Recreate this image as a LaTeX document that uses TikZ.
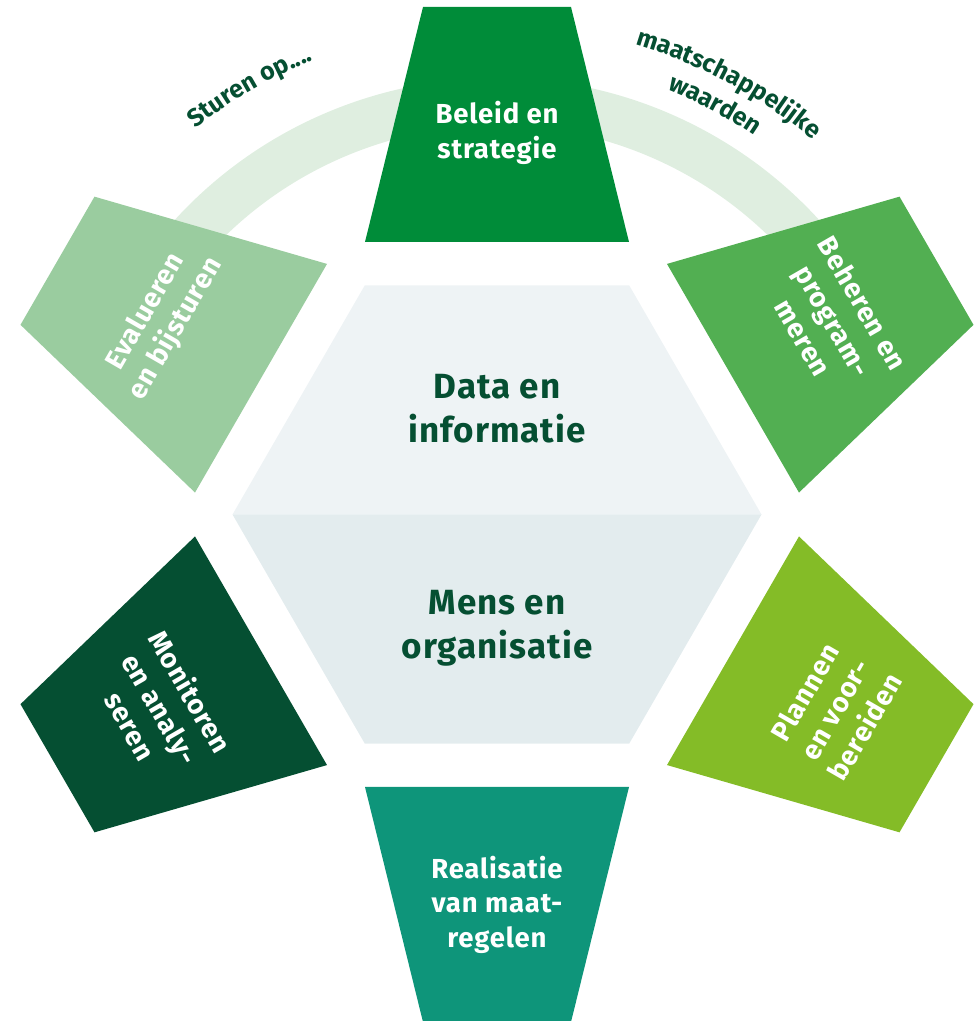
\documentclass[tikz,border=0pt]{standalone}
\usepackage{fontspec}
\setmainfont{Fira Sans}
\newfontfamily\lblfont[LetterSpace=3]{Fira Sans}
\usetikzlibrary{decorations.text,calc}
\definecolor{cTop}{HTML}{008C39}
\definecolor{cUR}{HTML}{52AF52}
\definecolor{cLR}{HTML}{84BC27}
\definecolor{cBot}{HTML}{0E957A}
\definecolor{cLL}{HTML}{054F32}
\definecolor{cUL}{HTML}{9ACC9F}
\definecolor{band}{HTML}{DFEEE0}
\definecolor{hexTop}{HTML}{EEF3F5}
\definecolor{hexBot}{HTML}{E3ECEE}
\definecolor{dgreen}{HTML}{054F32}
\newcommand\arcfont{\color{dgreen}\lblfont\bfseries\fontsize{25}{25}\selectfont}
\begin{document}
\begin{tikzpicture}[x=1pt,y=1pt,
  lbl/.style={font=\lblfont\bfseries\fontsize{27.5}{34.5}\selectfont, text=white, align=center, inner sep=0pt},
  midlbl/.style={font=\lblfont\bfseries\fontsize{35}{44}\selectfont, text=dgreen, align=center, inner sep=0pt},
  segment/.style={fill=#1}]
\useasboundingbox (0,0) rectangle (978,1021);
\coordinate (C) at (497,506.5);
% background band
\draw[line width=47.5pt, color=band] ([shift={(152:412.75)}]C) arc[start angle=152,end angle=28,radius=412.75];
% curved texts
\path[decorate, decoration={text along path, text align=center,
  text={|\arcfont|Sturen op....}}]
  ([shift={(150:490)}]C) arc[start angle=150,end angle=90,radius=490];
\path[decorate, decoration={text along path, text align=center,
  text={|\arcfont|maatschappelijke}}]
  ([shift={(100:490)}]C) arc[start angle=100,end angle=23.5,radius=490];
\path[decorate, decoration={text along path, text align=center,
  text={|\arcfont|waarden}}]
  ([shift={(92:458)}]C) arc[start angle=92,end angle=32,radius=458];
% six segments
\foreach \ang/\col in {90/cTop,150/cUL,210/cLL,270/cBot,330/cLR,30/cUR}{
  \fill[segment=\col, shift={(C)}, rotate=\ang-90]
    (-132,272.5) -- (132,272.5) -- (74,507.5) -- (-74,507.5) -- cycle;
}
% hexagon
\fill[hexTop] ([shift={(180:264.5)}]C) -- ([shift={(120:264.5)}]C) -- ([shift={(60:264.5)}]C) -- ([shift={(0:264.5)}]C) -- cycle;
\fill[hexBot] ([shift={(180:264.5)}]C) -- ([shift={(240:264.5)}]C) -- ([shift={(300:264.5)}]C) -- ([shift={(0:264.5)}]C) -- cycle;
% labels
\node[lbl] (beleid) at ([shift={(90:381.5)}]C) {Beleid en\\strategie};
\node[lbl] (real) at ([shift={(270:390)}]C) {Realisatie\\van maat-\\regelen};
\node[lbl, rotate=60] (eval) at ([shift={(150:388)}]C) {Evalueren\\en bijsturen};
\node[lbl, rotate=-60] (beheer) at ([shift={(30:388)}]C) {Beheren en\\program-\\meren};
\node[lbl, rotate=-60] (monitor) at ([shift={(210:388)}]C) {Monitoren\\en analy-\\seren};
\node[lbl, rotate=60] (plan) at ([shift={(330:390)}]C) {Plannen\\en voor-\\bereiden};
\node[midlbl] (data) at ([shift={(90:106)}]C) {Data en\\informatie};
\node[midlbl] (mens) at ([shift={(270:114)}]C) {Mens en\\organisatie};
\end{tikzpicture}
\end{document}
